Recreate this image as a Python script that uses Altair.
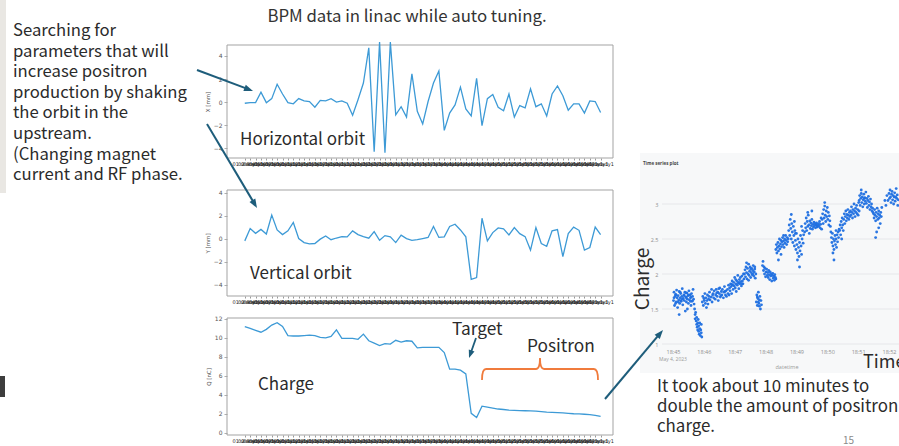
import json
import math

import altair as alt
import pandas as pd

W, H = 899, 446

SLIDE_FONT = "Noto Sans CJK JP"
MPL_FONT = "DejaVu Sans"
PLOTLY_FONT = "Open Sans"
LINE_C = "#3d9ad6"
ARROW_C = "#1e5d7b"
TEXT_C = "#2b2b2b"
DOT_C = "#1f6fe0"

# ---------------------------------------------------------------
# BPM readings for each auto-tuning step
# ---------------------------------------------------------------
x_orbit = [-0.1, -0.05, -0.05, 0.85, -0.05, 0.3, 1.55, 0.7, -0.05, -0.15,
           0.3, 0.1, 0.05, -0.45, 0.15, 0.1, 0.3, 0.0, 0.1, -0.1,
           -1.15, 0.2, 1.65, 4.7, -4.3, 5.2, -4.4, 5.2, -1.1, -0.4,
           -1.3, 2.45, -0.8, -1.9, 0.05, 1.65, 2.7, -2.45, -0.95, -0.25,
           1.3, -0.6, -1.2, 2.05, -2.05, 0.3, 0.65, -0.45, -0.75, 0.7,
           -1.3, -0.3, -0.5, 1.15, -0.4, -0.15, -1.2, 0.7, 1.4, 0.55,
           -0.7, -0.15, -0.15, -0.95, 0.1, 0.05, -0.9]

y_orbit = [-0.2, 0.87, 0.46, 0.8, 0.4, 2.05, 0.75, 0.35, 0.67, 1.4,
           0.0, -0.35, -0.46, -0.43, -0.05, 0.23, -0.1, 0.05, 0.17, 0.15,
           0.67, 0.35, 0.17, 0.03, 0.6, -0.15, 0.26, 0.15, -0.35, 0.3,
           0.0, -0.15, -0.1, 0.0, 0.1, 1.05, 0.1, 0.15, 1.05, 1.25,
           0.75, 0.15, -3.55, -3.4, 1.77, -0.2, 0.52, 0.93, 0.84, 0.32,
           0.96, 0.43, 0.17, -1.0, 0.96, -0.43, -0.67, 0.67, 0.78, -1.57,
           0.43, 1.0, 0.72, -1.0, -0.78, 1.0, 0.35]

charge_nc = [11.2, 11.0, 10.8, 10.6, 10.9, 11.35, 11.6, 11.2, 10.25, 10.2,
             10.2, 10.25, 10.3, 10.25, 10.05, 10.0, 10.15, 10.85, 9.95, 9.95,
             9.95, 9.85, 10.4, 9.7, 9.45, 9.2, 9.4, 9.35, 9.75, 9.55,
             9.7, 9.65, 8.95, 9.0, 9.0, 9.0, 9.0, 8.45, 6.7, 6.7,
             6.6, 6.2, 2.05, 1.6, 2.8, 2.7, 2.6, 2.5, 2.45, 2.38,
             2.35, 2.33, 2.32, 2.3, 2.27, 2.22, 2.17, 2.15, 2.13, 2.1,
             2.05, 2.0, 1.98, 1.95, 1.9, 1.83, 1.72]

steps = list(range(len(x_orbit)))
step_labels = [f"{k:02d}:ready1" for k in range(1, len(steps) + 1)]
orbit_ticks = [-4, -2, 0, 2, 4]
charge_ticks = [0, 2, 4, 6, 8, 10, 12]

# ---------------------------------------------------------------
# Positron charge monitor: (seconds after 18:45:00, charge)
# ---------------------------------------------------------------
m45_a = [(1, 1.62), (2, 1.74), (3, 1.55), (4, 1.68), (5, 1.71), (6, 1.6), (7, 1.77), (8, 1.66),
         (9, 1.52), (10, 1.69), (11, 1.63), (12, 1.75), (13, 1.58), (14, 1.66), (15, 1.72),
         (16, 1.61), (17, 1.68), (18, 1.79), (19, 1.56), (20, 1.65), (21, 1.7), (22, 1.62),
         (23, 1.74), (24, 1.47), (25, 1.67), (26, 1.6), (27, 1.73), (28, 1.64), (29, 1.69),
         (30, 1.58), (31, 1.76), (32, 1.63), (33, 1.7), (34, 1.66), (35, 1.55), (36, 1.72),
         (37, 1.61), (38, 1.68), (39, 1.78), (40, 1.64), (41, 1.57), (2, 1.66), (6, 1.7),
         (10, 1.6), (14, 1.74), (18, 1.64), (22, 1.69), (26, 1.66), (30, 1.7), (34, 1.61),
         (38, 1.62), (5, 1.58), (15, 1.62), (25, 1.73), (35, 1.67), (12, 1.42), (28, 1.5)]
m45_b = [(42, 1.5), (43, 1.42), (43, 1.36), (44, 1.45), (45, 1.33), (46, 1.28), (46, 1.38),
         (47, 1.24), (48, 1.3), (48, 1.2), (49, 1.35), (50, 1.18), (50, 1.26), (51, 1.14),
         (52, 1.22), (52, 1.3), (53, 1.12), (54, 1.2), (55, 1.16), (55, 1.28), (56, 1.1)]
m46_a = [(57, 1.6), (58, 1.68), (59, 1.55), (60, 1.65), (62, 1.72), (63, 1.58), (64, 1.66),
         (66, 1.62), (67, 1.7), (68, 1.57), (70, 1.68), (71, 1.74), (72, 1.63), (74, 1.67),
         (75, 1.78), (76, 1.6), (78, 1.72), (79, 1.66), (80, 1.76), (82, 1.64), (83, 1.7),
         (84, 1.78), (86, 1.68), (87, 1.74), (88, 1.62), (90, 1.72), (91, 1.8), (92, 1.67),
         (94, 1.75), (95, 1.7), (96, 1.78), (98, 1.66), (99, 1.74), (100, 1.82), (102, 1.7),
         (103, 1.76), (104, 1.68), (106, 1.78), (107, 1.72), (108, 1.84), (109, 1.7),
         (61, 1.62), (69, 1.64), (77, 1.7), (85, 1.73), (93, 1.69), (101, 1.75), (65, 1.52),
         (89, 1.79)]
m46_b = [(110, 1.8), (111, 1.76), (112, 1.86), (113, 1.82), (114, 1.72), (115, 1.9), (116, 1.84),
         (117, 1.78), (118, 1.88), (119, 1.83), (120, 1.95), (121, 1.8), (122, 1.86), (123, 1.75),
         (124, 1.9), (125, 1.84), (126, 1.98), (127, 1.87), (128, 1.79), (129, 1.92), (130, 1.86),
         (131, 1.95), (132, 1.89), (133, 1.83), (134, 1.97), (135, 1.9), (136, 1.86), (137, 2.0),
         (138, 1.93), (114, 1.85), (122, 1.92), (128, 1.88), (134, 1.86)]
m47_a = [(139, 2.0), (140, 2.06), (141, 1.96), (142, 2.1), (143, 2.02), (144, 1.93), (145, 2.08),
         (146, 2.0), (147, 2.14), (148, 1.98), (149, 2.04), (150, 2.1), (151, 1.95), (152, 2.02),
         (153, 2.08), (154, 1.99), (155, 2.05), (156, 2.12), (157, 1.97), (158, 2.03), (159, 2.07),
         (160, 1.94), (161, 2.0), (143, 2.16), (147, 1.91), (151, 2.07), (155, 2.0), (159, 2.1)]
m47_b = [(162, 1.6), (163, 1.7), (164, 1.55), (165, 1.65), (166, 1.74), (167, 1.58), (168, 1.63),
         (169, 1.68), (170, 1.5), (171, 1.62), (172, 1.56), (164, 1.67), (168, 1.54), (166, 1.6)]
m47_c = [(174, 2.12), (175, 2.18), (176, 2.05), (177, 2.1), (178, 2.0), (179, 2.08), (180, 1.96),
         (181, 2.03), (182, 2.07), (183, 1.98), (184, 2.02), (185, 1.95), (186, 2.05), (187, 1.99),
         (188, 1.92), (189, 2.03), (190, 1.97), (191, 2.0), (192, 1.9), (193, 1.98), (194, 2.01),
         (195, 1.94), (196, 1.97), (197, 1.91), (198, 1.99), (199, 1.95), (200, 1.93)]
m48_a = [(200, 2.35), (201, 2.42), (202, 2.3), (203, 2.38), (204, 2.45), (205, 2.33), (206, 2.4),
         (207, 2.5), (208, 2.36), (209, 2.43), (210, 2.48), (211, 2.39), (212, 2.46), (213, 2.52),
         (214, 2.42), (215, 2.47), (216, 2.38), (217, 2.5), (218, 2.44), (219, 2.55), (220, 2.48),
         (221, 2.42), (222, 2.52), (223, 2.46), (224, 2.5), (210, 2.28), (205, 2.2), (215, 2.55)]
m48_b = [(225, 2.62), (226, 2.7), (227, 2.55), (228, 2.78), (229, 2.65), (230, 2.5), (231, 2.72),
         (232, 2.6), (233, 2.45), (234, 2.68), (235, 2.55), (236, 2.4), (237, 2.62), (238, 2.48),
         (239, 2.35), (240, 2.58), (241, 2.42), (242, 2.3), (243, 2.5), (244, 2.38), (245, 2.25),
         (246, 2.45), (247, 2.33), (248, 2.55), (249, 2.4), (250, 2.28), (251, 2.5), (252, 2.62),
         (253, 2.44), (254, 2.56), (230, 2.85), (236, 2.75), (242, 2.2), (246, 2.1), (250, 2.68),
         (238, 2.58)]
m49 = [(256, 2.6), (257, 2.72), (258, 2.66), (259, 2.8), (260, 2.62), (261, 2.75), (262, 2.68),
       (263, 2.84), (264, 2.7), (265, 2.58), (266, 2.76), (267, 2.65), (268, 2.73), (269, 2.69),
       (270, 2.78), (271, 2.64), (272, 2.71), (273, 2.67), (274, 2.74), (275, 2.69), (276, 2.72),
       (277, 2.66), (278, 2.7), (279, 2.73), (280, 2.67), (281, 2.7), (282, 2.68), (283, 2.72),
       (284, 2.69), (285, 2.75), (286, 2.66), (287, 2.71), (288, 2.8), (289, 2.64), (262, 2.88),
       (270, 2.9)]
m49_b = [(290, 2.78), (291, 2.86), (292, 2.72), (293, 2.92), (294, 2.8), (295, 2.97), (296, 2.84),
         (297, 2.75), (298, 2.9), (299, 2.82), (300, 2.95), (301, 2.78), (302, 2.88), (303, 2.7),
         (304, 2.83), (305, 2.76), (306, 2.68), (295, 3.02)]
m50_a = [(307, 2.6), (308, 2.52), (309, 2.45), (310, 2.58), (311, 2.4), (312, 2.5), (313, 2.35),
         (314, 2.47), (315, 2.55), (316, 2.42), (317, 2.5), (318, 2.38), (319, 2.56), (320, 2.46),
         (321, 2.6), (322, 2.52), (323, 2.64), (313, 2.2), (311, 2.3), (317, 2.62)]
m50_b = [(324, 2.62), (325, 2.7), (326, 2.56), (327, 2.75), (328, 2.66), (329, 2.8), (330, 2.7),
         (331, 2.62), (332, 2.78), (333, 2.86), (334, 2.72), (335, 2.82), (336, 2.9), (337, 2.76),
         (338, 2.85), (339, 2.8), (340, 2.92), (341, 2.84), (342, 2.78), (343, 2.88), (344, 2.82),
         (328, 2.5)]
m50_c = [(345, 2.9), (346, 2.84), (347, 2.96), (348, 2.88), (349, 2.8), (350, 2.92), (351, 2.86),
         (352, 3.0), (353, 2.9), (354, 2.82), (355, 2.94), (356, 2.88), (357, 2.98), (358, 2.86),
         (359, 2.92), (360, 2.84), (361, 3.02), (362, 2.9)]
m51_a = [(362, 3.05), (363, 3.12), (364, 2.98), (365, 3.08), (366, 3.15), (367, 3.02), (368, 3.1),
         (369, 2.96), (370, 3.06), (371, 3.14), (372, 3.0), (373, 3.09), (374, 3.04), (375, 3.17),
         (376, 3.01), (377, 3.08), (378, 2.95), (379, 3.05), (380, 3.11), (381, 2.98), (382, 3.03),
         (383, 2.92), (384, 3.07), (385, 2.96), (386, 3.0), (387, 2.9), (388, 2.94), (389, 2.88),
         (366, 3.2), (372, 3.08)]
m51_b = [(390, 2.86), (391, 2.8), (392, 2.92), (393, 2.84), (394, 2.76), (395, 2.88), (396, 2.82),
         (397, 2.94), (398, 2.78), (399, 2.86), (400, 2.9), (401, 2.8), (402, 2.84), (403, 2.72),
         (404, 2.88), (405, 2.82), (406, 2.95), (396, 2.6), (394, 2.52), (400, 2.66)]
m52 = [(412, 3.05), (414, 2.98), (416, 3.12), (418, 3.05), (420, 3.15), (421, 3.08), (422, 3.2),
       (423, 3.1), (424, 3.02), (425, 3.14), (426, 3.18), (427, 3.06), (428, 3.12), (429, 3.0),
       (430, 3.1), (431, 3.16), (432, 3.04), (433, 3.1), (434, 3.22), (435, 3.08), (436, 3.13),
       (437, 2.98), (438, 3.06)]

monitor = (m45_a + m45_b + m46_a + m46_b + m47_a + m47_b + m47_c + m48_a + m48_b
           + m49 + m49_b + m50_a + m50_b + m50_c + m51_a + m51_b + m52)

time_tick_sec = [0, 60, 120, 180, 240, 300, 360, 420]
time_tick_labels = ["18:45", "18:46", "18:47", "18:48", "18:49", "18:50", "18:51", "18:52"]
charge_grid = [1, 1.5, 2, 2.5, 3]
charge_grid_labels = ["1", "1.5", "2", "2.5", "3"]

# ---------------------------------------------------------------
# helpers
# ---------------------------------------------------------------
ONE = pd.DataFrame({"k": [0]})


def note(text, x, y, size, color=TEXT_C, font=SLIDE_FONT, align="left",
         baseline="alphabetic", angle=None, weight="normal", line_height=None):
    kw = dict(text=text, fontSize=size, color=color, font=font, align=align,
              baseline=baseline, fontWeight=weight)
    if angle is not None:
        kw["angle"] = angle
    if line_height is not None:
        kw["lineHeight"] = line_height
    return alt.Chart(ONE).mark_text(**kw).encode(x=alt.value(x), y=alt.value(y))


def box(x0, y0, x1, y1, fill):
    return alt.Chart(ONE).mark_rect(color=fill).encode(
        x=alt.value(x0), x2=alt.value(x1), y=alt.value(y0), y2=alt.value(y1))


ARROW_HEAD = "M 1 0 L -1 -0.75 L -1 0.75 Z"


def arrow(x0, y0, x1, y1, color=ARROW_C, width=2.0, head=4.5):
    length = math.hypot(x1 - x0, y1 - y0)
    ux, uy = (x1 - x0) / length, (y1 - y0) / length
    hx, hy = x1 - ux * head, y1 - uy * head
    ang = math.degrees(math.atan2(uy, ux)) % 360
    shaft = alt.Chart(ONE).mark_rule(color=color, strokeWidth=width).encode(
        x=alt.value(x0), y=alt.value(y0), x2=alt.value(hx), y2=alt.value(hy))
    tip = alt.Chart(ONE).mark_point(shape=ARROW_HEAD, filled=True, color=color, opacity=1,
                                    size=(2 * head) ** 2, angle=ang, strokeWidth=0).encode(
        x=alt.value(hx), y=alt.value(hy))
    return [shaft, tip]


# ---------------------------------------------------------------
# three matplotlib-style BPM panels
# ---------------------------------------------------------------
X_DOM = [-3.3, 68.3]
X_PIX = [227, 613]
STEP_EXPR = json.dumps(step_labels) + "[datum.value]"


def bpm_panel(values, title, y_dom, y_pix, ticks):
    df = pd.DataFrame({"step": steps, "value": values})
    xs = alt.Scale(domain=X_DOM, range=X_PIX, nice=False, zero=False)
    ys = alt.Scale(domain=y_dom, range=y_pix, nice=False, zero=False)
    x_axis = alt.Axis(orient="bottom", offset=y_pix[0] - H, values=steps, labelExpr=STEP_EXPR,
                      labelOverlap=False, labelFlush=False, labelFont=MPL_FONT, labelFontSize=5,
                      labelColor="#262626", labelPadding=1, tickSize=2, tickColor="#555",
                      tickWidth=0.6, domain=False, grid=False, title=None)
    y_axis = alt.Axis(orient="left", offset=-X_PIX[0], values=ticks, labelFont=MPL_FONT,
                      labelFontSize=6, labelColor="#555", labelPadding=2, tickSize=3,
                      tickColor="#777", tickWidth=0.6, domain=False, grid=False, title=title,
                      titleFont=MPL_FONT, titleFontSize=5.5, titleFontWeight="normal",
                      titleColor="#555", titlePadding=3)
    frame_df = pd.DataFrame({"x0": [X_DOM[0]], "x1": [X_DOM[1]],
                             "y0": [y_dom[0]], "y1": [y_dom[1]]})
    frame = alt.Chart(frame_df).mark_rect(fillOpacity=0, stroke="#a3a3a3", strokeWidth=1).encode(
        x=alt.X("x0:Q", scale=xs, axis=None), x2="x1:Q",
        y=alt.Y("y0:Q", scale=ys, axis=None), y2="y1:Q")
    line = alt.Chart(df).mark_line(color=LINE_C, strokeWidth=1.3, clip=False).encode(
        x=alt.X("step:Q", scale=xs, axis=x_axis),
        y=alt.Y("value:Q", scale=ys, axis=y_axis))
    return [frame, line]


top = bpm_panel(x_orbit, "X [mm]", [-4.85, 4.95], [158, 45], orbit_ticks)
mid = bpm_panel(y_orbit, "Y [mm]", [-5.0, 4.23], [296, 190], orbit_ticks)
bot = bpm_panel(charge_nc, "Q [nC]", [-0.24, 12.1], [435, 318], charge_ticks)

# ---------------------------------------------------------------
# plotly-style time series of the positron charge
# ---------------------------------------------------------------
mon_df = pd.DataFrame(monitor, columns=["sec", "charge"])
T_SCALE = alt.Scale(domain=[0, 420], range=[673, 889], nice=False, zero=False)
Q_SCALE = alt.Scale(domain=[1, 3], range=[344, 204], nice=False, zero=False)

panel_bg = box(640, 153, 899, 373, "#f7f8f9")
grid = alt.Chart(pd.DataFrame({"g": charge_grid})).mark_rule(color="#e6e7ea", strokeWidth=1).encode(
    y=alt.Y("g:Q", scale=Q_SCALE, axis=None), x=alt.value(662), x2=alt.value(899))
dots = alt.Chart(mon_df).mark_circle(color=DOT_C, size=8, opacity=0.95).encode(
    x=alt.X("sec:Q", scale=T_SCALE,
            axis=alt.Axis(orient="bottom", offset=346 - H, values=time_tick_sec,
                          labelExpr=json.dumps(time_tick_labels) + "[round(datum.value / 60)]",
                          labelFont=PLOTLY_FONT, labelFontSize=5.5, labelColor="#8e8e8e",
                          labelPadding=3, ticks=False, domain=False, grid=False, title=None,
                          labelOverlap=False, labelFlush=False, zindex=2)),
    y=alt.Y("charge:Q", scale=Q_SCALE,
            axis=alt.Axis(orient="left", offset=-662, values=charge_grid,
                          labelExpr=json.dumps(charge_grid_labels)
                          + "[round((datum.value - 1) * 2)]",
                          labelFont=PLOTLY_FONT,
                          labelFontSize=5.5, labelColor="#8e8e8e", labelPadding=4,
                          ticks=False, domain=False, grid=False, title=None, zindex=2)))

# ---------------------------------------------------------------
# slide annotations
# ---------------------------------------------------------------
layers = [
    box(0, 0, 6, 193, "#e9e7e3"),
    box(0, 376, 5, 397, "#3d3d3d"),
    panel_bg, grid, dots,
    *top, *mid, *bot,
    note("BPM data in linac while auto tuning.", 407, 22, 16.8, color="#333", align="center"),
    note(["Searching for", "parameters that will", "increase positron",
          "production by shaking", "the orbit in the", "upstream.",
          "(Changing magnet", "current and RF phase."], 13, 36, 16.7, line_height=20.6),
    note("Horizontal orbit", 240, 145, 17),
    note("Vertical orbit", 250, 279, 17),
    note("Charge", 258, 390, 17),
    note("Target", 452, 335, 17.3),
    note("Positron", 527, 352, 17.3),
    note("Time series plot", 643, 165, 4.5, color="#444", font=PLOTLY_FONT, weight="bold"),
    note("May 4, 2023", 673, 361, 5, color="#9a9a9a", font=PLOTLY_FONT, align="center"),
    note("datetime", 787, 369, 5.5, color="#9a9a9a", font=PLOTLY_FONT, align="center"),
    note("Charge", 643, 279, 19, angle=270, align="center", baseline="middle"),
    note("Time", 863, 368, 18),
    note(["It took about 10 minutes to", "double the amount of positron", "charge."],
         657, 392, 16.9, line_height=20),
    note("15", 843, 444, 10, color="#8a8a8a"),
    *arrow(197, 70, 253, 91),
    *arrow(207, 124, 257, 208),
    *arrow(605, 399, 663, 330),
    *arrow(476, 338, 469, 358, width=1.8, head=4),
]

brace = alt.Chart(ONE).mark_point(
    shape="M -1 0.19 Q -1 0 -0.93 0 L -0.07 0 Q 0 0 0 -0.19 Q 0 0 0.07 0 L 0.93 0 Q 1 0 1 0.19",
    filled=False, color="#f07b3c", strokeWidth=1.8, size=116 ** 2, opacity=1).encode(
    x=alt.value(540), y=alt.value(369))
layers.append(brace)

chart = alt.layer(*layers).resolve_scale(x="independent", y="independent").properties(
    width=W, height=H, padding=0, autosize=alt.AutoSizeParams(type="none"),
    background="white").configure_view(stroke=None)

chart.save("out.html", embed_options={"renderer": "svg", "actions": False})
